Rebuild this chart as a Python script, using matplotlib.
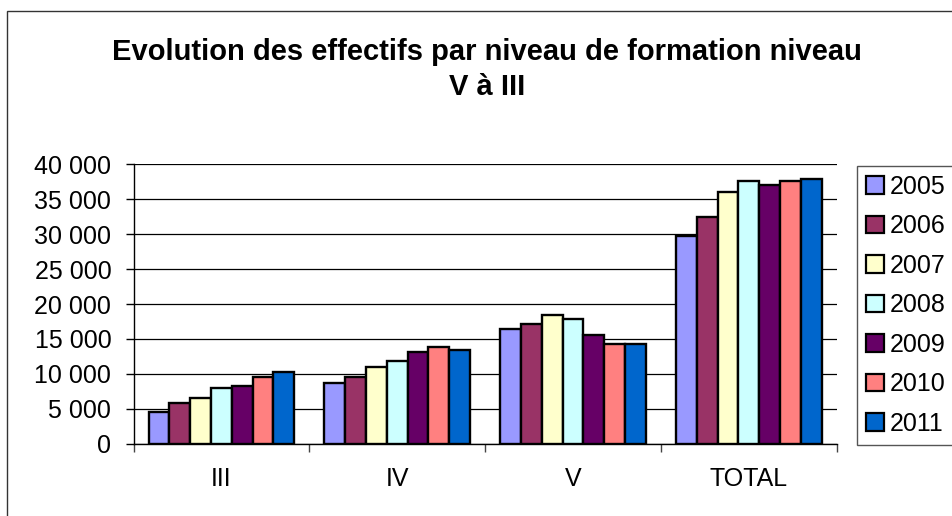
import matplotlib
matplotlib.use("Agg")
import matplotlib.pyplot as plt
import numpy as np
from matplotlib.patches import Rectangle
from matplotlib.ticker import FuncFormatter, FixedLocator

plt.rcParams['font.family'] = ['Liberation Sans', 'DejaVu Sans']

categories = ["III", "IV", "V", "TOTAL"]
years = ["2005", "2006", "2007", "2008", "2009", "2010", "2011"]
v2005 = [4590, 8740, 16390, 29720]
v2006 = [5790, 9560, 17110, 32460]
v2007 = [6550, 11030, 18400, 35980]
v2008 = [7980, 11810, 17830, 37620]
v2009 = [8230, 13190, 15580, 37000]
v2010 = [9520, 13900, 14250, 37670]
v2011 = [10280, 13390, 14290, 37960]
series = [v2005, v2006, v2007, v2008, v2009, v2010, v2011]
colors = ["#9999FF", "#993366", "#FFFFCC", "#CCFFFF", "#660066", "#FF8080", "#0066CC"]

W, H = 952, 516
fig = plt.figure(figsize=(W / 100, H / 100), dpi=100)

# outer chart border (cut at right and bottom)
fig.patches.append(Rectangle((7 / W, -0.1), 1.2, 1 - 11 / H + 0.1,
                             transform=fig.transFigure, fill=False,
                             edgecolor="#333333", linewidth=1.0))

left, right, top, bottom = 133.5, 836.7, 164.3, 443.7
ax = fig.add_axes([left / W, 1 - bottom / H, (right - left) / W, (bottom - top) / H])

x = np.arange(len(categories))
n = len(series)
bw = 0.828 / n
for i, (vals, c, yr) in enumerate(zip(series, colors, years)):
    ax.bar(x - 0.414 + bw * (i + 0.5), vals, width=bw, color=c,
           edgecolor="black", linewidth=1.7, label=yr, zorder=3)

ax.set_xlim(-0.5, len(categories) - 0.5)
ax.set_ylim(0, 40000)
ax.set_yticks(np.arange(0, 40001, 5000))
ax.yaxis.set_major_formatter(FuncFormatter(lambda v, p: f"{int(v):,}".replace(",", " ")))
ax.grid(axis="y", color="black", linewidth=0.9, zorder=0)
ax.set_axisbelow(True)

ax.set_xticks(x)
ax.set_xticklabels(categories)
ax.xaxis.set_minor_locator(FixedLocator(np.arange(-0.5, len(categories), 1.0)))
ax.tick_params(axis="x", which="major", length=0, pad=17, labelsize=18)
ax.tick_params(axis="x", which="minor", length=6, width=1, color="#444444", direction="out")
ax.tick_params(axis="y", length=6, width=1, color="black", pad=10, labelsize=18, direction="out")

for s in ["top", "right"]:
    ax.spines[s].set_visible(False)
ax.spines["left"].set_color("black")
ax.spines["bottom"].set_color("black")
ax.spines["left"].set_linewidth(1)
ax.spines["bottom"].set_linewidth(1)

fig.text(487 / W, 1 - 95 / H,
         "Evolution des effectifs par niveau de formation niveau\nV à III",
         ha="center", va="baseline", fontsize=21, fontweight="bold",
         linespacing=1.3, multialignment="center")

leg = fig.legend(loc="upper left", bbox_to_anchor=(857 / W, 1 - 166 / H, 120 / W, 0),
                 mode="expand",
                 fontsize=18, frameon=True, fancybox=False, framealpha=1,
                 edgecolor="#555555", borderpad=0.35, handlelength=0.72,
                 handleheight=0.72, handletextpad=0.25, labelspacing=0.62,
                 borderaxespad=0)
leg.get_frame().set_linewidth(1.0)
for h in leg.legend_handles:
    h.set_linewidth(1.6)

fig.savefig("out.png", dpi=100)
